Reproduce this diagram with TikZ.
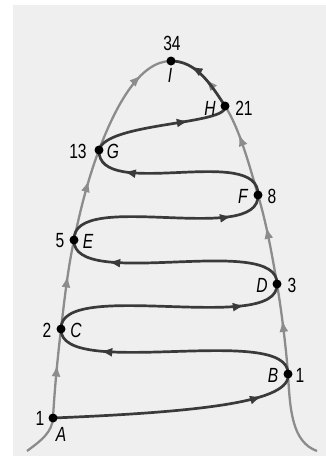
\documentclass[tikz,border=0pt]{standalone}
\usepackage{fontspec}
\setmainfont{Liberation Sans}[FakeStretch=0.76]
\usetikzlibrary{arrows.meta,decorations.markings}
\definecolor{bgc}{HTML}{EFEFEF}
\definecolor{outerc}{HTML}{8C8C8C}
\definecolor{darkc}{HTML}{3A3A3A}
\begin{document}
\begin{tikzpicture}[x=1pt,y=-1pt,
  outerline/.style={draw=outerc, line width=2.3pt},
  darkline/.style={draw=darkc, line width=2.7pt},
  garrow/.style={postaction={decorate}, decoration={markings, mark=at position #1 with {\arrow[color=outerc]{Latex[length=12pt,width=9pt]}}}},
  darrow/.style={postaction={decorate}, decoration={markings, mark=at position #1 with {\arrow[color=darkc]{Latex[length=12pt,width=9pt]}}}},
  lbl/.style={font=\fontsize{20.5}{24}\selectfont, inner sep=0pt},
  ilbl/.style={font=\fontsize{20.5}{24}\selectfont\itshape, inner sep=0pt}]
\useasboundingbox (0,0) rectangle (326,456);
\fill[white] (0,0) rectangle (326,456);
\fill[bgc] (13,5) rectangle (326,456);
% points
\coordinate (SL) at (27,451);
\coordinate (SR) at (317,451);
\coordinate (A) at (53,418);
\coordinate (B) at (288,374);
\coordinate (C) at (61,329);
\coordinate (D) at (277,284);
\coordinate (E) at (74,240);
\coordinate (F) at (258,195);
\coordinate (G) at (99,150);
\coordinate (H) at (225,106);
\coordinate (I) at (171,61);
% outer curve, left branch
\draw[outerline] (SL) .. controls (42,440) and (52,432) .. (A);
\draw[outerline, garrow=0.6] (A) .. controls (54.7,388) and (57.5,358.7) .. (C);
\draw[outerline, garrow=0.6] (C) .. controls (64.5,299.3) and (67.7,269.8) .. (E);
\draw[outerline, garrow=0.66] (E) .. controls (80.3,210.2) and (87.7,180) .. (G);
\draw[outerline, garrow=0.72] (G) .. controls (116,105) and (140,61) .. (I);
% outer curve, right branch
\draw[outerline] (SR) .. controls (292,442) and (290,410) .. (B);
\draw[outerline, garrow=0.6] (B) .. controls (286.3,350.7) and (282,313.8) .. (D);
\draw[outerline, garrow=0.64] (D) .. controls (272,254.2) and (266.7,224.7) .. (F);
\draw[outerline, garrow=0.67] (F) .. controls (249.3,165.3) and (239.5,128.3) .. (H);
\draw[outerline, garrow=0.45] (H) .. controls (210.5,83.7) and (196,61) .. (I);
% dark path
\draw[darkline, darrow=0.85] (A) .. controls (200,412) and (292,402) .. (B);
\draw[darkline, darrow=0.8] (B) .. controls (290,322) and (59,381) .. (C);
\draw[darkline, darrow=0.82] (C) .. controls (59,277) and (279,336) .. (D);
\draw[darkline, darrow=0.8] (D) .. controls (279,232) and (72,292) .. (E);
\draw[darkline, darrow=0.82] (E) .. controls (72,188) and (260,247) .. (F);
\draw[darkline, darrow=0.8] (F) .. controls (260,143) and (97,202) .. (G);
\draw[darkline, darrow=0.7] (G) .. controls (106,122) and (230,125) .. (H);
\draw[darkline, darrow=0.72] (H) .. controls (210.5,83.7) and (196,61) .. (I);
% dots
\foreach \p in {A,B,C,D,E,F,G,H,I} \fill[black] (\p) circle (4.5pt);
% labels
\node[lbl] (lA) at (40,418) {1};
\node[ilbl] (nA) at (61,434) {A};
\node[ilbl] (nB) at (273,375) {B};
\node[lbl] (lB) at (300,375) {1};
\node[lbl] (lC) at (47,330) {2};
\node[ilbl] (nC) at (76,330) {C};
\node[ilbl] (nD) at (262,285) {D};
\node[lbl] (lD) at (292,285) {3};
\node[lbl] (lE) at (60,241) {5};
\node[ilbl] (nE) at (88,241) {E};
\node[ilbl] (nF) at (243,196) {F};
\node[lbl] (lF) at (272,196) {8};
\node[lbl] (lG) at (78,151) {13};
\node[ilbl] (nG) at (113,151) {G};
\node[ilbl] (nH) at (210,108) {H};
\node[lbl] (lH) at (244,108) {21};
\node[lbl] (lI) at (172,43) {34};
\node[ilbl] (nI) at (170,75) {I};
\end{tikzpicture}
\end{document}
